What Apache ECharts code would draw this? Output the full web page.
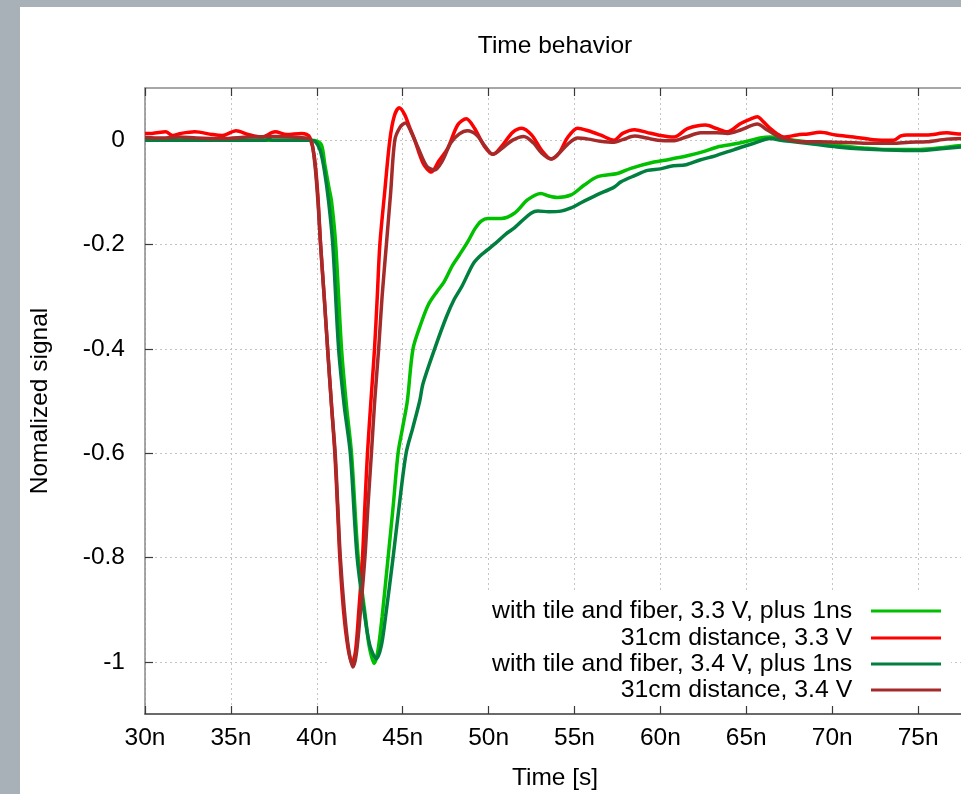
<!DOCTYPE html>
<html>
<head>
<meta charset="utf-8">
<script src="https://cdn.jsdelivr.net/npm/echarts@6/dist/echarts.min.js"></script>
<style>
  html, body { margin: 0; padding: 0; width: 961px; height: 794px; overflow: hidden; background: #a8b1b8; }
  #chart { position: absolute; left: 20px; top: 7px; width: 1100px; height: 787px; background: #ffffff; }
</style>
</head>
<body>
<div id="chart"></div>
<script>
// ---- data (time in ns, normalized signal) ----
const seriesNames = [
  'with tile and fiber, 3.3 V, plus 1ns',
  '31cm distance, 3.3 V',
  'with tile and fiber, 3.4 V, plus 1ns',
  '31cm distance, 3.4 V'
];
const seriesColors = ['#00c000', '#ff0000', '#007f3f', '#a52a2a'];

const tile33 = [
  [30,0],[35,0],[39.6,0],[40.0,-0.002],[40.28,-0.01],[40.47,-0.047],[40.7,-0.09],[40.86,-0.118],[41.1,-0.2],
  [41.44,-0.4],[41.73,-0.51],[42.02,-0.6],[42.41,-0.8],[42.83,-0.914],[43.05,-0.97],[43.34,-1.003],
  [43.55,-0.98],[43.8,-0.914],[44.15,-0.8],[44.45,-0.7],[44.73,-0.6],[45.0,-0.55],[45.27,-0.5],
  [45.6,-0.4],[46.08,-0.35],[46.5,-0.315],[47.0,-0.29],[47.4,-0.272],[47.9,-0.24],[48.3,-0.22],
  [48.8,-0.194],[49.2,-0.17],[49.57,-0.155],[49.96,-0.15],[50.73,-0.15],[51.5,-0.14],[52.28,-0.114],
  [53.05,-0.102],[53.5,-0.107],[54.0,-0.11],[54.8,-0.105],[55.57,-0.086],[56.35,-0.07],[57.5,-0.064],
  [58.28,-0.054],[59.63,-0.042],[60.5,-0.037],[61.57,-0.03],[62.5,-0.022],[63.32,-0.013],[64.2,-0.008],
  [65.06,-0.002],[65.8,0.004],[66.4,0.006],[67.0,0.003],[67.76,0.0],[69.0,-0.005],[70.28,-0.01],
  [71.8,-0.015],[73.2,-0.018],[75.1,-0.018],[76.5,-0.014],[77.5,-0.01],[78,-0.008]
];

const dist33 = [
  [30,0.013],[30.4,0.013],[31.2,0.016],[31.6,0.009],[32.1,0.013],[32.9,0.016],[33.9,0.011],[34.5,0.009],
  [35.3,0.018],[36.0,0.011],[36.8,0.006],[37.57,0.016],[38.25,0.011],[39.1,0.013],[39.4,0.011],
  [39.6,0.005],[39.85,-0.03],[40.05,-0.1],[40.22,-0.2],[40.43,-0.3],[40.63,-0.4],[40.86,-0.51],
  [41.05,-0.6],[41.2,-0.7],[41.34,-0.8],[41.55,-0.9],[41.8,-0.97],[42.05,-1.003],[42.25,-0.98],
  [42.45,-0.9],[42.66,-0.8],[42.8,-0.7],[42.95,-0.6],[43.15,-0.5],[43.36,-0.4],[43.52,-0.3],
  [43.67,-0.2],[43.95,-0.1],[44.25,0.0],[44.5,0.045],[44.79,0.062],[45.1,0.05],[45.4,0.025],
  [45.7,0.0],[46.2,-0.045],[46.67,-0.061],[47.1,-0.04],[47.63,-0.015],[48.2,0.029],[48.7,0.041],
  [49.18,0.023],[49.76,-0.012],[50.25,-0.027],[50.8,-0.01],[51.4,0.015],[51.93,0.023],[52.5,0.01],
  [53.1,-0.02],[53.64,-0.036],[54.1,-0.025],[54.6,0.005],[55.18,0.023],[55.8,0.018],[56.5,0.01],
  [57.3,0.0],[57.8,0.013],[58.5,0.02],[59.2,0.015],[59.85,0.01],[60.8,0.006],[61.57,0.022],
  [62.63,0.029],[63.3,0.022],[63.9,0.016],[64.67,0.032],[65.2,0.04],[65.64,0.045],[66.0,0.035],
  [66.4,0.022],[66.8,0.012],[67.18,0.006],[67.96,0.01],[68.6,0.012],[69.3,0.015],[70.2,0.01],
  [71.25,0.006],[72.4,0.001],[73.57,0.0],[74.0,0.008],[74.35,0.01],[75.5,0.01],[76.67,0.014],
  [77.5,0.012],[78,0.012]
];

const tile34 = [
  [30,0],[37,0],[37.2,0.002],[37.4,0],[39.6,0],[39.9,-0.002],[40.2,-0.02],[40.45,-0.06],[40.69,-0.118],
  [40.93,-0.2],[41.27,-0.4],[41.6,-0.51],[41.95,-0.6],[42.35,-0.8],[42.8,-0.914],[43.1,-0.97],
  [43.47,-0.994],[43.75,-0.97],[44.0,-0.914],[44.44,-0.8],[44.8,-0.7],[45.2,-0.6],[45.6,-0.55],
  [45.99,-0.5],[46.18,-0.467],[46.86,-0.4],[47.54,-0.339],[48.0,-0.305],[48.45,-0.28],[49.1,-0.237],
  [49.5,-0.222],[49.95,-0.21],[50.53,-0.194],[51.0,-0.18],[51.5,-0.168],[52.0,-0.153],[52.47,-0.14],
  [52.86,-0.136],[53.5,-0.137],[54.2,-0.136],[54.8,-0.13],[55.38,-0.12],[56.3,-0.105],[57.31,-0.09],
  [57.7,-0.08],[58.5,-0.068],[59.25,-0.058],[60.0,-0.055],[60.6,-0.05],[61.5,-0.047],[62.3,-0.038],
  [63.2,-0.03],[64.3,-0.018],[65.44,-0.006],[66.4,0.003],[67.0,0.0],[67.76,-0.003],[69.0,-0.008],
  [70.28,-0.013],[71.8,-0.017],[73.2,-0.019],[75.1,-0.02],[76.5,-0.016],[77.5,-0.013],[78,-0.012]
];

const dist34 = [
  [30,0.005],[31,0.004],[32,0.006],[33,0.004],[34.5,0.003],[36,0.006],[37.5,0.007],[39,0.005],
  [39.6,0.003],[39.85,-0.035],[40.05,-0.11],[40.22,-0.2],[40.43,-0.3],[40.63,-0.4],[40.86,-0.51],
  [41.07,-0.6],[41.22,-0.7],[41.37,-0.8],[41.6,-0.9],[41.85,-0.975],[42.1,-1.01],[42.3,-0.985],
  [42.55,-0.9],[42.8,-0.8],[42.98,-0.7],[43.18,-0.6],[43.37,-0.5],[43.6,-0.4],[43.8,-0.3],
  [44.05,-0.2],[44.3,-0.1],[44.54,0.0],[44.85,0.025],[45.16,0.033],[45.5,0.015],[45.9,-0.015],
  [46.4,-0.05],[46.86,-0.057],[47.3,-0.04],[47.8,-0.005],[48.3,0.012],[48.76,0.018],[49.3,0.01],
  [49.8,-0.012],[50.25,-0.027],[50.8,-0.015],[51.4,0.0],[52.05,0.007],[52.6,-0.005],[53.1,-0.025],
  [53.64,-0.036],[54.1,-0.025],[54.6,-0.008],[55.18,0.004],[55.8,0.002],[56.5,-0.002],[57.3,-0.004],
  [57.8,0.001],[58.5,0.008],[59.2,0.004],[59.85,0.0],[60.8,-0.001],[61.5,0.006],[62.35,0.014],
  [63.3,0.014],[63.9,0.013],[64.7,0.02],[65.64,0.031],[66.2,0.02],[66.8,0.008],[67.2,0.003],
  [68.2,-0.003],[69.3,-0.003],[70.2,-0.004],[71.25,-0.005],[72.4,-0.006],[73.5,-0.006],[74.5,-0.004],
  [75.5,-0.003],[76.67,0.002],[77.5,0.003],[78,0.004]
];

const seriesData = [tile33, dist33, tile34, dist34];
const yTickValues = [-1, -0.8, -0.6, -0.4, -0.2, 0];
const xMin = 30, xMax = 80, xStep = 5;
const yMin = -1.1, yMax = 0.1;

const FONT = 'Liberation Sans, Arial, sans-serif';
const FS = 24.5;
const LFS = 24.8;

const chart = echarts.init(document.getElementById('chart'), null, { renderer: 'canvas' });

const legendTops = [591, 618, 644, 670];

const option = {
  animation: false,
  backgroundColor: '#ffffff',
  grid: { left: 123, top: 81, right: 116, bottom: 80, containLabel: false },
  xAxis: [
    {
      type: 'value', min: xMin, max: xMax, interval: xStep, position: 'bottom',
      axisLine: { show: true, onZero: false, lineStyle: { color: '#3a3a3a', width: 1.5 } },
      axisTick: { show: true, inside: true, length: 8, lineStyle: { color: '#3a3a3a', width: 1.2 } },
      axisLabel: { color: '#000', fontFamily: FONT, fontSize: FS, margin: 12, formatter: v => v + 'n' },
      splitLine: { show: true, lineStyle: { color: '#c4c4c4', type: [2, 3], width: 1 } }
    },
    {
      type: 'value', min: xMin, max: xMax, interval: xStep, position: 'top',
      axisLine: { show: true, onZero: false, lineStyle: { color: '#8a8a8a', width: 1.5 } },
      axisTick: { show: true, inside: true, length: 8, lineStyle: { color: '#3a3a3a', width: 1.2 } },
      axisLabel: { show: false },
      splitLine: { show: false }
    }
  ],
  yAxis: {
    type: 'value', min: yMin, max: yMax, interval: 0.1,
    name: 'Nomalized signal', nameLocation: 'middle', nameGap: 92,
    nameTextStyle: { color: '#000', fontFamily: FONT, fontSize: FS },
    axisLine: { show: true, onZero: false, lineStyle: { color: '#8a8a8a', width: 1.5 } },
    axisTick: { show: true, inside: true, length: 8, customValues: yTickValues, lineStyle: { color: '#3a3a3a', width: 1.2 } },
    axisLabel: { color: '#000', fontFamily: FONT, fontSize: FS, margin: 20, customValues: yTickValues,
      formatter: v => String(Math.round(v * 10) / 10) },
    splitLine: { show: true, lineStyle: { color: '#c4c4c4', type: [2, 3], width: 1 } }
  },
  legend: seriesNames.map((n, i) => ({
    data: [n], right: 179, top: legendTops[i], orient: 'horizontal', align: 'right',
    padding: 0, icon: 'rect', itemWidth: 70, itemHeight: 3, itemGap: 0, selectedMode: false,
    formatter: name => name + '  ',
    textStyle: { color: '#000', fontFamily: FONT, fontSize: LFS, lineHeight: 26 }
  })),
  graphic: [
    { type: 'rect', z: 1, silent: true, shape: { x: 307, y: 584, width: 624, height: 115 },
      style: { fill: '#ffffff' } },
    { type: 'text', z: 5, x: 535, y: 39, silent: true,
      style: { text: 'Time behavior', fill: '#000', font: FS + 'px ' + FONT, textAlign: 'center', textVerticalAlign: 'middle' } },
    { type: 'text', z: 5, x: 535, y: 771, silent: true,
      style: { text: 'Time [s]', fill: '#000', font: FS + 'px ' + FONT, textAlign: 'center', textVerticalAlign: 'middle' } }
  ],
  series: seriesNames.map((n, i) => ({
    name: n, type: 'line', data: seriesData[i], xAxisIndex: 0,
    showSymbol: false, symbol: 'none', smooth: 0.3, z: 2 + i * 0.01,
    lineStyle: { color: seriesColors[i], width: 3.5 },
    itemStyle: { color: seriesColors[i] }
  }))
};

chart.setOption(option);
</script>
</body>
</html>
